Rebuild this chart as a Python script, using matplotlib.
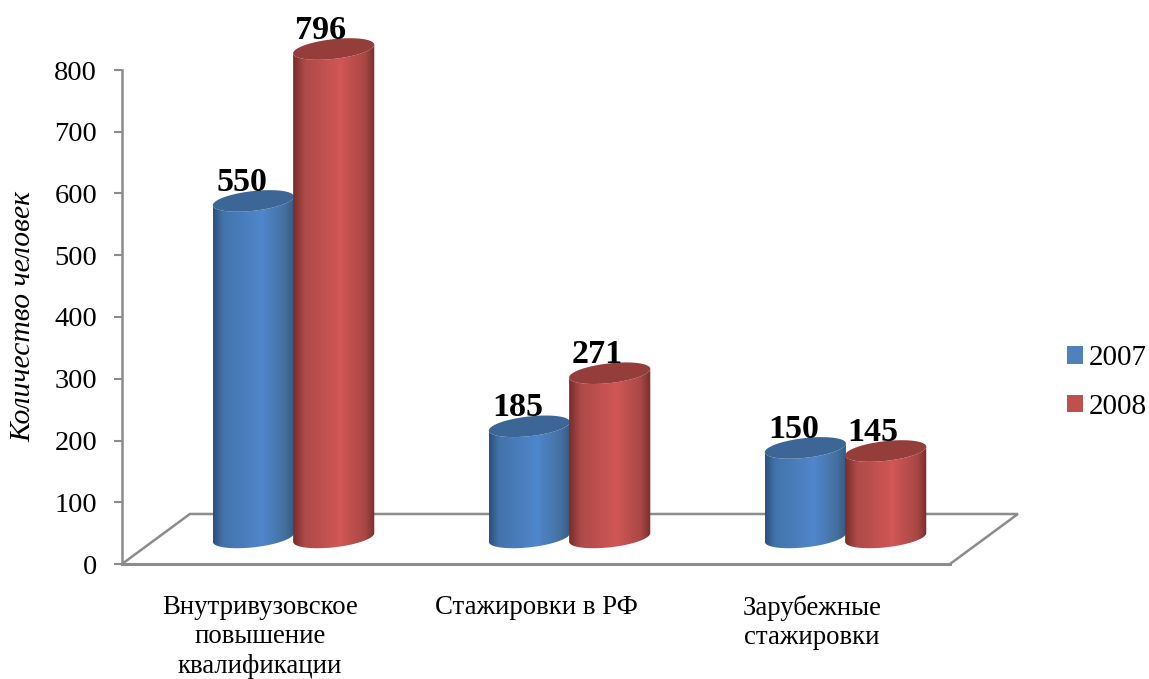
#!/usr/bin/env python
import numpy as np
import matplotlib
matplotlib.use('Agg')
import matplotlib.pyplot as plt
from matplotlib.colors import LinearSegmentedColormap
from matplotlib.patches import Patch, Polygon, PathPatch
from matplotlib.path import Path

categories = ['Внутривузовское\nповышение\nквалификации', 'Стажировки в РФ', 'Зарубежные\nстажировки']
years = ['2007', '2008']
values_2007 = [550, 185, 150]
values_2008 = [796, 271, 145]
y_ticks = [0, 100, 200, 300, 400, 500, 600, 700, 800]

plt.rcParams['font.family'] = ['Liberation Serif', 'DejaVu Serif']

W, H = 1149, 679
fig = plt.figure(figsize=(W / 100, H / 100), dpi=100)
ax = fig.add_axes([122 / W, 1 - 564 / H, 828 / W, 494 / H])
ax.set_xlim(-0.5, 2.5)
ax.set_ylim(0, 800)

gray = '#8c8c8c'
depth_x, depth_y = 0.246, 81   # back of the floor
base_y = 43                    # centre of the bottom ellipse
top_shift = 38                 # the top ellipse sits this far above its value
half_w = 0.147
half_h = 16
tilt = 7

blue_map = LinearSegmentedColormap.from_list('b', [(0, '#2c5078'), (0.12, '#4273ab'), (0.6, '#5086cc'), (0.88, '#44709f'), (1, '#34597f')])
red_map = LinearSegmentedColormap.from_list('r', [(0, '#772c2a'), (0.14, '#ad4a48'), (0.58, '#d05755'), (0.88, '#a94745'), (1, '#772e2c')])
grad = np.linspace(0, 1, 256).reshape(1, -1)


def ellipse(xc, yc, t):
    return xc + half_w * np.cos(t), yc + half_h * np.sin(t) + tilt * np.cos(t)


def cylinder(xc, value, cmap, top_color, z):
    top = top_shift + value
    t_low = np.linspace(np.pi, 2 * np.pi, 60)
    xb, yb = ellipse(xc, base_y, t_low)
    xt, yt = ellipse(xc, top, t_low[::-1])
    body = np.column_stack([np.r_[xb, xt], np.r_[yb, yt]])
    path = Path(np.vstack([body, body[0]]), closed=True)
    clip = PathPatch(path, transform=ax.transData, fc='none', ec='none', clip_on=False)
    ax.add_patch(clip)
    im = ax.imshow(grad, cmap=cmap, aspect='auto', zorder=z, interpolation='bilinear',
                   extent=[xc - half_w, xc + half_w, 0, top + 30])
    im.set_clip_path(clip)
    im.set_clip_box(fig.bbox)
    t_all = np.linspace(0, 2 * np.pi, 120)
    xc_top, yc_top = ellipse(xc, top, t_all)
    ax.add_patch(Polygon(np.column_stack([xc_top, yc_top]), closed=True, fc=top_color, ec='none',
                         zorder=z + 0.1, clip_on=False))
    return top


# floor
floor_x = [-0.5, -0.5 + depth_x, 2.5 + depth_x, 2.5]
floor_y = [0, depth_y, depth_y, 0]
ax.plot(floor_x, floor_y, color=gray, lw=1.8, clip_on=False, zorder=1, solid_joinstyle='miter')
ax.plot([-0.5, 2.5], [0, 0], color=gray, lw=2.2, clip_on=False, zorder=1)

x = np.arange(len(categories))
for i in x:
    top_a = cylinder(i - 0.024, values_2007[i], blue_map, '#3c6695', 3 + i)
    top_b = cylinder(i + 0.267, values_2008[i], red_map, '#943d3a', 3.5 + i)
    for xc, top, val in [(i - 0.024, top_a, values_2007[i]), (i + 0.264, top_b, values_2008[i])]:
        ax.annotate(str(val), (xc, top), xytext=(-8.5, 13.5), textcoords='offset points', ha='center', va='center',
                    fontsize=24.5, fontweight='bold', color='black', zorder=10, annotation_clip=False)

ax.set_xlim(-0.5, 2.5)
ax.set_ylim(0, 800)

ax.set_xticks(x)
ax.set_xticklabels(categories, fontsize=19.3, linespacing=1.24)
ax.tick_params(axis='x', length=0, pad=22)
ax.set_yticks(y_ticks)
ax.tick_params(axis='y', length=6, width=1.5, color=gray, labelsize=20.5, pad=12)

for s in ['top', 'right', 'bottom']:
    ax.spines[s].set_visible(False)
ax.spines['left'].set_color(gray)
ax.spines['left'].set_linewidth(1.8)
ax.patch.set_visible(False)

ax.set_ylabel('Количество человек', fontsize=21.3, style='italic')
ax.yaxis.set_label_coords(-86 / 828, 0.5)

handles = [Patch(fc='#4f81bd', ec='none'), Patch(fc='#c0504d', ec='none')]
fig.legend(handles, years, loc='center left', bbox_to_anchor=(1067 / W, 1 - 382.5 / H), frameon=False,
           fontsize=21, handlelength=0.55, handleheight=0.55, handletextpad=0.2, labelspacing=0.78,
           borderpad=0, borderaxespad=0)

fig.savefig('out.png', dpi=100)
